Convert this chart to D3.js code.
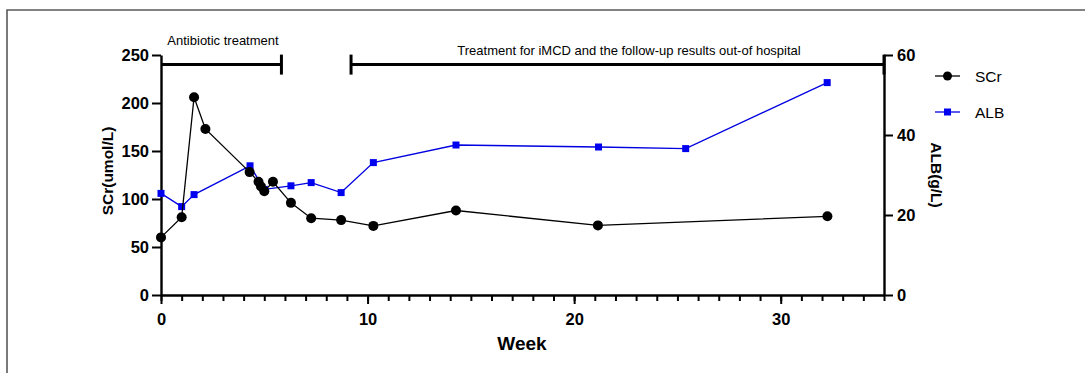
<!DOCTYPE html>
<html>
<head>
<meta charset="utf-8">
<script src="https://cdn.jsdelivr.net/npm/d3@7"></script>
<style>
html,body{margin:0;padding:0;background:#fff;}
svg{display:block;font-family:"Liberation Sans",Arial,sans-serif;}
</style>
</head>
<body>
<svg id="chart" width="1085" height="373"></svg>
<script>
// Data (weeks)
const scrWeeks = [0, 1.0, 1.6, 2.15, 4.29, 4.72, 4.84, 5.0, 5.42, 6.29, 7.27, 8.72, 10.28, 14.28, 21.15, 32.26];
const scrValues = [60, 81, 206, 173, 128, 118, 113, 108, 118, 96, 80, 78, 72, 88, 72.5, 82];
const albWeeks = [0, 1.0, 1.6, 4.31, 5.0, 6.29, 7.27, 8.72, 10.28, 14.28, 21.18, 25.4, 32.25];
const albValues = [25.4, 22.1, 25.1, 32.3, 26.4, 27.3, 28.1, 25.6, 33.1, 37.5, 37.0, 36.6, 53.1];
const xTicks = [0, 10, 20, 30];
const leftTicks = [0, 50, 100, 150, 200, 250];
const rightTicks = [0, 20, 40, 60];
const periods = [
  {label: "Antibiotic treatment", start: 0, end: 5.83, capStart: false},
  {label: "Treatment for iMCD and the follow-up results out-of hospital", start: 9.2, end: 35, capStart: true}
];
const periodLevel = 240;
const seriesNames = ["SCr", "ALB"];

const svg = d3.select("#chart");
const x = d3.scaleLinear().domain([0, 35]).range([161, 884]);
const yL = d3.scaleLinear().domain([0, 250]).range([295, 55]);
const yR = d3.scaleLinear().domain([0, 60]).range([295, 55]);

// frame
svg.append("path").attr("d", "M7,373 L7,10 L1085,10").attr("fill", "none")
  .attr("stroke", "#5a5a5a").attr("stroke-width", 1.6);

// axes
const axisStyle = g => {
  g.selectAll("path.domain").attr("stroke", "#000").attr("stroke-width", 2.4);
  g.selectAll(".tick line").attr("stroke", "#000").attr("stroke-width", 2);
  g.selectAll(".tick text").attr("font-size", 16.5).attr("font-weight", "bold")
    .attr("font-family", "'Liberation Sans', Arial, sans-serif").attr("fill", "#000");
};

// minor x ticks
svg.append("g").attr("transform", "translate(0,295)")
  .call(d3.axisBottom(x).tickValues(d3.range(0, 36, 1)).tickSize(6).tickFormat(""))
  .call(g => { g.select("path.domain").remove(); g.selectAll(".tick line").attr("stroke", "#000").attr("stroke-width", 2); });

svg.append("g").attr("transform", "translate(0,295)")
  .call(d3.axisBottom(x).tickValues(xTicks).tickSize(9).tickSizeOuter(0).tickPadding(9))
  .call(axisStyle);

svg.append("g").attr("transform", "translate(161,0)")
  .call(d3.axisLeft(yL).tickValues(leftTicks).tickSize(9).tickSizeOuter(0).tickPadding(3))
  .call(axisStyle)
  .call(g => g.selectAll(".tick text").attr("dy", "0.36em"));

svg.append("g").attr("transform", "translate(884,0)")
  .call(d3.axisRight(yR).tickValues(rightTicks).tickSize(9).tickSizeOuter(0).tickPadding(4))
  .call(axisStyle)
  .call(g => g.selectAll(".tick text").attr("dy", "0.36em"));

// axis titles
svg.append("text").attr("x", 522).attr("y", 350).attr("text-anchor", "middle")
  .attr("font-size", 19).attr("font-weight", "bold").text("Week");
svg.append("text").attr("transform", "translate(113,171) rotate(-90)").attr("text-anchor", "middle")
  .attr("font-size", 15.5).attr("font-weight", "bold").text("SCr(umol/L)");
svg.append("text").attr("transform", "translate(931,175) rotate(90)").attr("text-anchor", "middle")
  .attr("font-size", 15.5).attr("font-weight", "bold").text("ALB(g/L)");

// periods
const pg = svg.append("g");
periods.forEach(p => {
  const yy = yL(periodLevel);
  pg.append("line").attr("x1", x(p.start)).attr("x2", x(p.end)).attr("y1", yy).attr("y2", yy)
    .attr("stroke", "#000").attr("stroke-width", 3);
  pg.append("line").attr("x1", x(p.end)).attr("x2", x(p.end)).attr("y1", yy - 10).attr("y2", yy + 10)
    .attr("stroke", "#000").attr("stroke-width", 3);
  if (p.capStart) {
    pg.append("line").attr("x1", x(p.start)).attr("x2", x(p.start)).attr("y1", yy - 10).attr("y2", yy + 10)
      .attr("stroke", "#000").attr("stroke-width", 3);
  }
});
svg.append("text").attr("x", 223).attr("y", 45).attr("text-anchor", "middle")
  .attr("font-size", 13).text(periods[0].label);
svg.append("text").attr("x", 629).attr("y", 55).attr("text-anchor", "middle")
  .attr("font-size", 13).text(periods[1].label);

// series
const scr = scrWeeks.map((w, i) => [w, scrValues[i]]);
const alb = albWeeks.map((w, i) => [w, albValues[i]]);

svg.append("path").datum(alb)
  .attr("d", d3.line().x(d => x(d[0])).y(d => yR(d[1])))
  .attr("fill", "none").attr("stroke", "#0000e0").attr("stroke-width", 1.3);
svg.append("g").selectAll("rect").data(alb).join("rect")
  .attr("x", d => x(d[0]) - 3.5).attr("y", d => yR(d[1]) - 3.5)
  .attr("width", 7).attr("height", 7).attr("fill", "#0000f0");

svg.append("path").datum(scr)
  .attr("d", d3.line().x(d => x(d[0])).y(d => yL(d[1])))
  .attr("fill", "none").attr("stroke", "#000").attr("stroke-width", 1.3);
svg.append("g").selectAll("circle").data(scr).join("circle")
  .attr("cx", d => x(d[0])).attr("cy", d => yL(d[1])).attr("r", 5).attr("fill", "#000");

// legend
const lg = svg.append("g");
[{name: seriesNames[0], y: 76, color: "#000", shape: "circle"},
 {name: seriesNames[1], y: 112, color: "#0000e0", shape: "rect"}].forEach(it => {
  lg.append("line").attr("x1", 935).attr("x2", 960).attr("y1", it.y).attr("y2", it.y)
    .attr("stroke", it.color).attr("stroke-width", 1.3);
  if (it.shape === "circle") lg.append("circle").attr("cx", 947.5).attr("cy", it.y).attr("r", 4.5).attr("fill", "#000");
  else lg.append("rect").attr("x", 944).attr("y", it.y - 3.5).attr("width", 7).attr("height", 7).attr("fill", "#0000f0");
  lg.append("text").attr("x", 975).attr("y", it.y + 5.5).attr("font-size", 15.5).text(it.name);
});
</script>
</body>
</html>
